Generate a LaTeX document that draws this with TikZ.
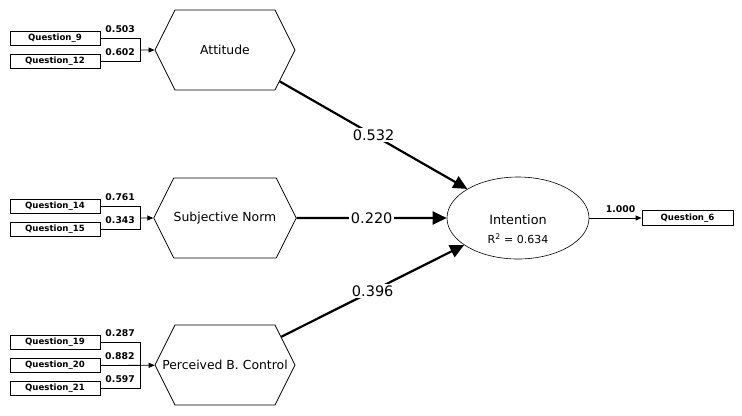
\documentclass[tikz,border=0pt]{standalone}
\usepackage{fontspec}
\setmainfont{DejaVu Sans}
\usetikzlibrary{shapes.symbols, shapes.geometric, arrows.meta, positioning}

\begin{document}
\begin{tikzpicture}[x=1bp, y=-1bp]
	\tikzstyle{latent}=[signal, signal to=west and east, signal pointer angle=126.87, draw=black, line width=0.8bp, minimum width=140bp, minimum height=80bp, inner sep=0pt, font=\fontsize{12.4bp}{15bp}\selectfont]
	\tikzstyle{item}=[rectangle, draw=black, line width=0.8bp, minimum width=90bp, minimum height=13.5bp, inner sep=0pt, font=\bfseries\fontsize{8.6bp}{9bp}\selectfont]
	\tikzstyle{load}=[inner sep=2bp, font=\bfseries\fontsize{9.3bp}{10bp}\selectfont]
	\tikzstyle{coef}=[fill=white, inner sep=1.5bp, font=\fontsize{14.5bp}{16bp}\selectfont]
	\tikzstyle{heavy}=[line width=2.2bp, -{Triangle[length=14bp, width=13bp]}]
	\tikzstyle{light}=[line width=0.8bp, -{Triangle[length=6bp, width=5bp]}]
	\useasboundingbox (0,0) rectangle (742,415);

	\node (att) at (225,50) [latent]{Attitude};
	\node (sn) at (225,218) [latent]{Subjective Norm};
	\node (pbc) at (225,365) [latent]{\makebox[90bp][c]{Perceived B. Control}};
	\node (int) at (518,218) [ellipse, draw, line width=0.6bp, minimum width=142bp, minimum height=82bp]{};
	\node (intname) at (518,220) [font=\fontsize{12.8bp}{15bp}\selectfont]{Intention};
	\node (intr2) at (518,239) [font=\fontsize{11bp}{13bp}\selectfont]{R\textsuperscript{2} = 0.634};

	\node (q9) at (55,38.5) [item]{Question\_9};
	\node (q12) at (55,61.5) [item]{Question\_12};
	\node (q14) at (55,206.5) [item]{Question\_14};
	\node (q15) at (55,229.5) [item]{Question\_15};
	\node (q19) at (55,342.5) [item]{Question\_19};
	\node (q20) at (55,365.5) [item]{Question\_20};
	\node (q21) at (55,388.5) [item]{Question\_21};
	\node (q6) at (687.5,218) [item, minimum width=91bp, minimum height=15bp]{Question\_6};

	\coordinate (attj) at (140,50);
	\coordinate (snj) at (140,218);
	\coordinate (pbcj) at (140,365.5);

	\draw[line width=0.8bp] (q9.east) -| node[pos=0.25, above=3bp, load]{0.503} (attj);
	\draw[line width=0.8bp] (q12.east) -| node[pos=0.25, above=3bp, load]{0.602} (attj);
	\draw[light] (attj) -- (att);

	\draw[line width=0.8bp] (q14.east) -| node[pos=0.25, above=3bp, load]{0.761} (snj);
	\draw[line width=0.8bp] (q15.east) -| node[pos=0.25, above=3bp, load]{0.343} (snj);
	\draw[light] (snj) -- (sn);

	\draw[line width=0.8bp] (q19.east) -| node[pos=0.25, above=3bp, load]{0.287} (pbcj);
	\draw[line width=0.8bp] (q21.east) -| node[pos=0.25, above=3bp, load]{0.597} (pbcj);
	\draw[light] (q20.east) --node[pos=0.36, above=3bp, load]{0.882} (pbc);

	\draw[heavy] (att) --node[coef]{0.532} (int);
	\draw[heavy] (sn) --node[coef]{0.220} (int);
	\draw[heavy] (pbc) --node[coef]{0.396} (int);

	\draw[light] (int) --node[pos=0.6, above=3bp, load]{1.000} (q6);
\end{tikzpicture}
\end{document}
